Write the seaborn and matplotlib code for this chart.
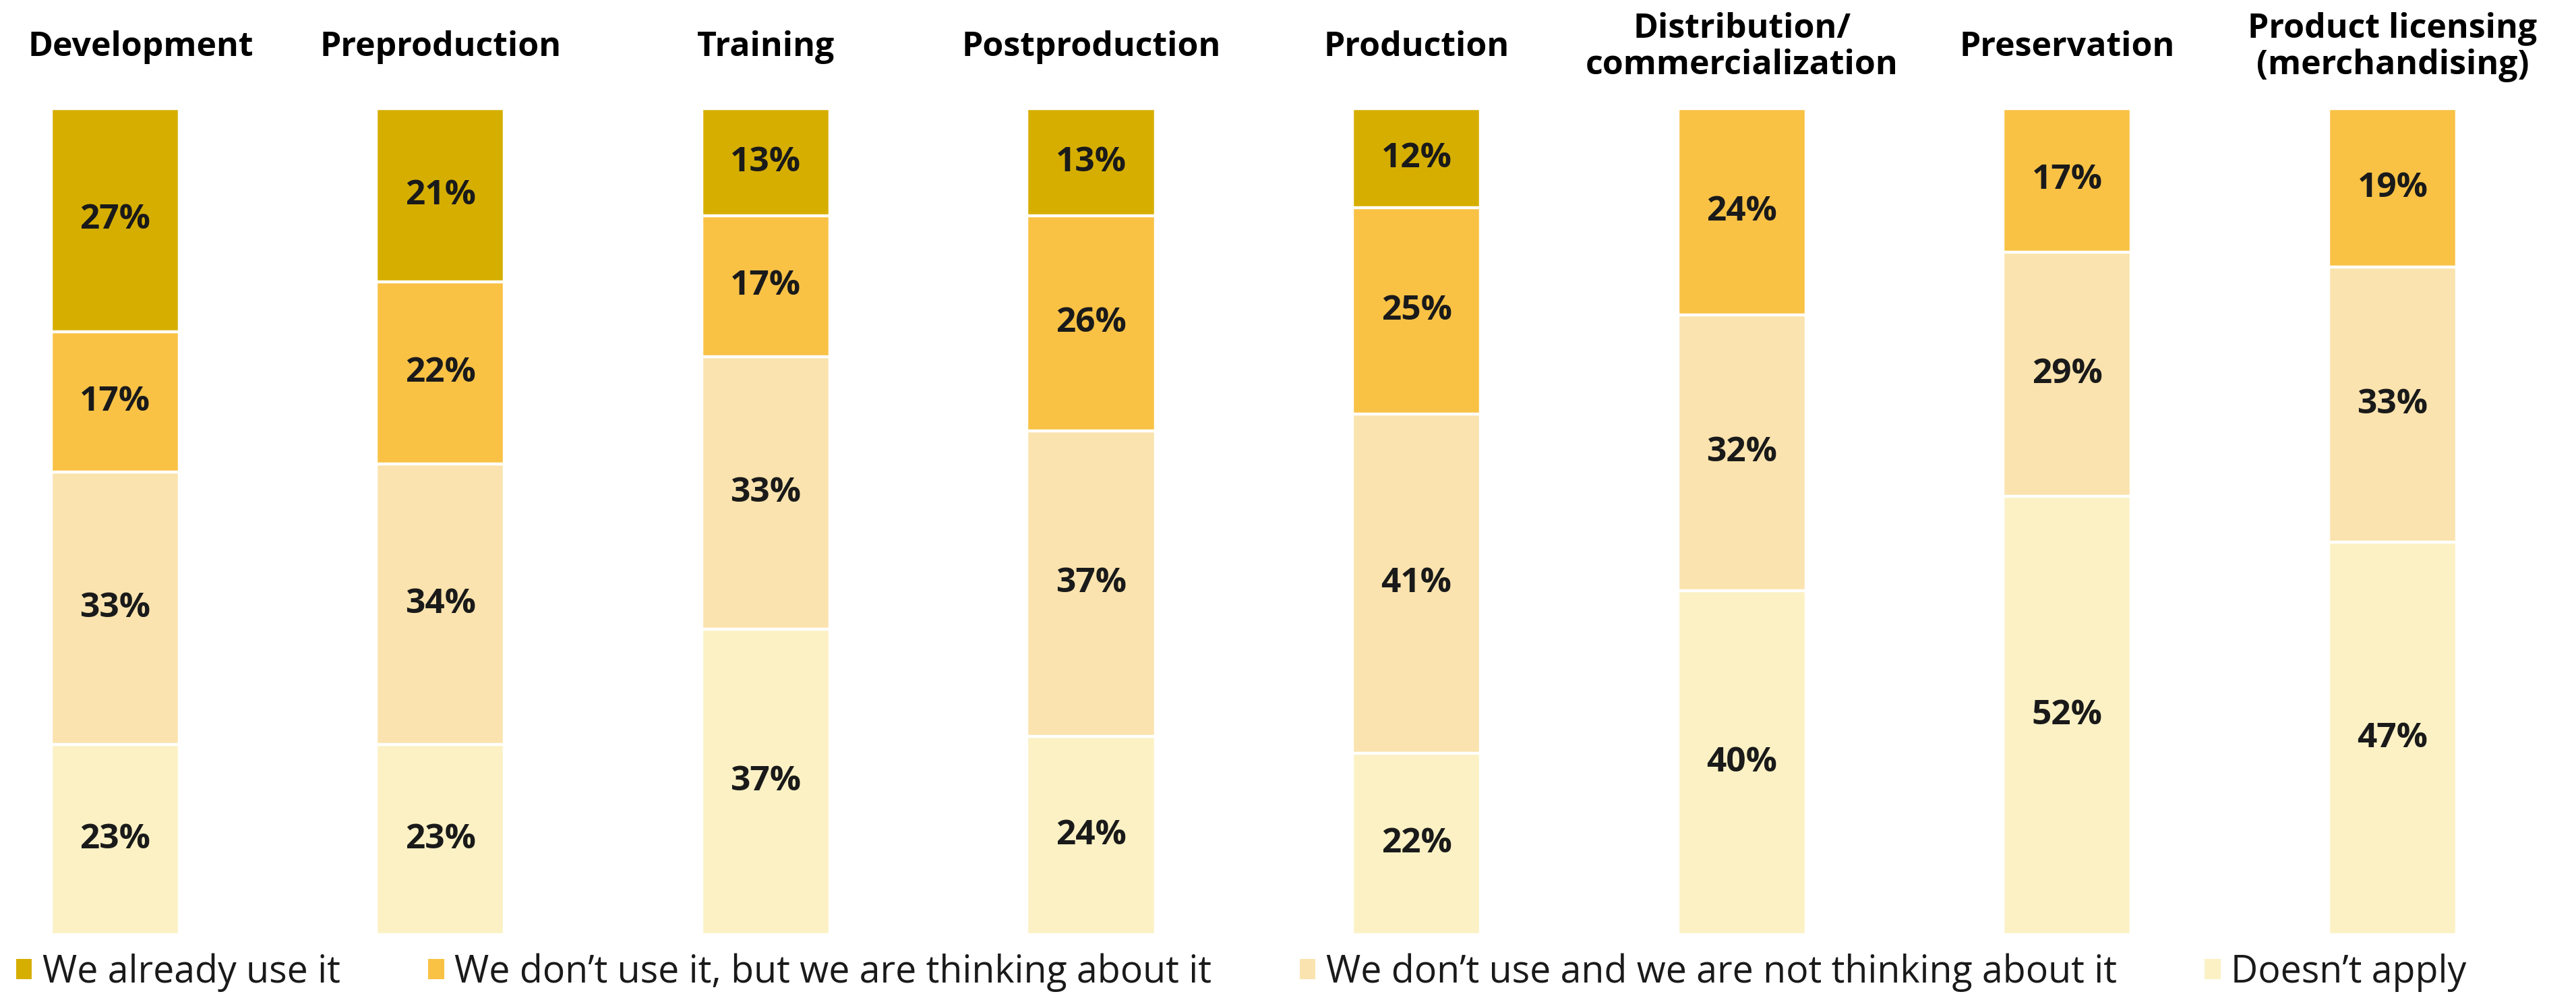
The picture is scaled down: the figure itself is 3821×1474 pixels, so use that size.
import matplotlib
matplotlib.use("Agg")
import matplotlib.pyplot as plt
from matplotlib.patches import Patch
from matplotlib.transforms import blended_transform_factory
import numpy as np
import pandas as pd
import seaborn as sns

# Survey data: share of respondents per production stage (%)
stages = [
    "Development", "Preproduction", "Training", "Postproduction",
    "Production", "Distribution/\ncommercialization", "Preservation",
    "Product licensing\n(merchandising)",
]
already_use = [27, 21, 13, 13, 12, 0, 0, 0]
thinking = [17, 22, 17, 26, 25, 24, 17, 19]
not_thinking = [33, 34, 33, 37, 41, 32, 29, 33]
not_apply = [23, 23, 37, 24, 22, 40, 52, 47]

series_names = [
    "We already use it",
    "We don\u2019t use it, but we are thinking about it",
    "We don\u2019t use and we are not thinking about it",
    "Doesn\u2019t apply",
]
colors = ["#D6AE00", "#F9C245", "#FAE3AE", "#FBF1C4"]

sns.set_theme(style="white")
plt.rcParams["font.family"] = ["Open Sans", "DejaVu Sans"]

df = pd.DataFrame({
    "stage": stages,
    "already": already_use,
    "thinking": thinking,
    "not_thinking": not_thinking,
    "not_apply": not_apply,
})
totals = df[["already", "thinking", "not_thinking", "not_apply"]].sum(axis=1)
# stacking order from the bottom up
stack_cols = ["not_apply", "not_thinking", "thinking", "already"]
stack_colors = colors[::-1]
shares = df[stack_cols].div(totals, axis=0) * 100
cum = shares.cumsum(axis=1)

W, H = 3821, 1474
fig = plt.figure(figsize=(W / 100, H / 100), dpi=100)
bar_w = 0.394
ax = fig.add_axes([75.6 / W, 88 / H, (3644 - 75.6) / W, 1225 / H])

# draw the tallest cumulative layer first so lower layers sit on top
for col, colr in reversed(list(zip(stack_cols, stack_colors))):
    plot_df = pd.DataFrame({"stage": df["stage"], "top": cum[col]})
    sns.barplot(data=plot_df, x="stage", y="top", order=stages, color=colr,
                width=bar_w, edgecolor="white", linewidth=3.2,
                saturation=1, ax=ax)

ax.set_xlim(-bar_w / 2, len(stages) - 1 + bar_w / 2)
ax.set_ylim(0, 100)
ax.axis("off")

# value labels
for i in range(len(stages)):
    prev = 0.0
    for col in stack_cols:
        val = df.loc[i, col]
        share = shares.loc[i, col]
        if val > 0:
            ax.text(i, prev + share / 2, f"{val}%", ha="center", va="center",
                    fontsize=37, fontweight="bold", color="#1a1a1a")
        prev += share

# stage titles above the bars
trans = blended_transform_factory(ax.transData, fig.transFigure)
title_y = 1 - 70 / H
for i, name in enumerate(stages):
    if i == 0:
        # keep the first title inside the figure edge
        fig.text(41 / W, title_y, name, ha="left", va="center",
                 fontsize=36, fontweight="bold", color="black")
    else:
        ax.text(i, title_y, name, transform=trans, ha="center", va="center",
                fontsize=36, fontweight="bold", color="black",
                linespacing=1.1)

handles = [Patch(facecolor=c, edgecolor="none") for c in colors]
fig.legend(handles, series_names, loc="center left",
           bbox_to_anchor=(24 / W, 32 / H), ncol=4, frameon=False,
           fontsize=40, handlelength=0.42, handleheight=0.45,
           handletextpad=0.28, columnspacing=2.35, borderpad=0,
           borderaxespad=0, labelcolor="#1a1a1a")

fig.savefig("out.png", dpi=100, facecolor="white")
